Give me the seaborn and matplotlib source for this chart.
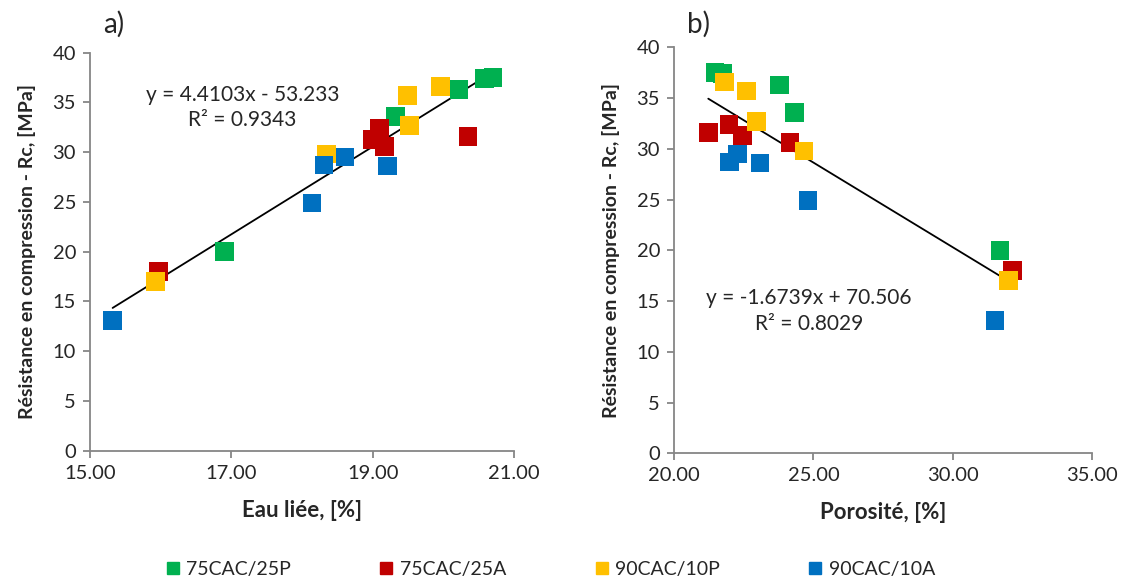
import matplotlib
matplotlib.use("Agg")
import matplotlib.pyplot as plt
import seaborn as sns
import pandas as pd

# data
groups = ["75CAC/25P", "75CAC/25A", "90CAC/10P", "90CAC/10A"]
colors = ["#00B050", "#C00000", "#FFC000", "#0070C0"]

eau_75p = [16.90, 19.32, 20.22, 20.58, 20.70]
poro_75p = [31.69, 24.32, 23.78, 21.74, 21.47]
rc_75p = [20.0, 33.6, 36.3, 37.4, 37.5]

eau_75a = [15.97, 18.99, 19.10, 19.17, 20.35]
poro_75a = [32.13, 22.45, 21.97, 24.16, 21.23]
rc_75a = [18.0, 31.3, 32.4, 30.6, 31.6]

eau_90p = [15.93, 18.35, 19.49, 19.52, 19.96]
poro_90p = [31.99, 24.66, 22.61, 22.96, 21.81]
rc_90p = [17.0, 29.8, 35.7, 32.7, 36.6]

eau_90a = [15.32, 18.14, 18.31, 18.61, 19.21]
poro_90a = [31.51, 24.81, 21.98, 22.28, 23.08]
rc_90a = [13.1, 24.9, 28.7, 29.5, 28.6]

eq_a = "y = 4.4103x - 53.233\nR² = 0.9343"
eq_b = "y = -1.6739x + 70.506\nR² = 0.8029"

df = pd.DataFrame({
    "groupe": [groups[0]] * 5 + [groups[1]] * 5 + [groups[2]] * 5 + [groups[3]] * 5,
    "eau": eau_75p + eau_75a + eau_90p + eau_90a,
    "poro": poro_75p + poro_75a + poro_90p + poro_90a,
    "rc": rc_75p + rc_75a + rc_90p + rc_90a,
})

sns.set_theme(style="white")
plt.rcParams["font.family"] = ["Lato", "DejaVu Sans"]

fig = plt.figure(figsize=(11.35, 5.79), dpi=100)
ax1 = fig.add_axes([0.0793, 0.2216, 0.3736, 0.6874])
ax2 = fig.add_axes([0.5938, 0.2170, 0.3686, 0.7012])

palette = dict(zip(groups, colors))
grey = "#868686"


def panel(ax, x, xlim, xticks, xlabel, letter, letter_y, eq, eq_xy):
    sns.regplot(x=x, y="rc", data=df, scatter=False, ci=None, ax=ax,
                line_kws={"color": "black", "lw": 1.3}, truncate=True)
    sns.scatterplot(x=x, y="rc", hue="groupe", data=df, palette=palette,
                    marker="s", s=180, linewidth=0, ax=ax, legend=False, zorder=3)
    ax.set_xlim(*xlim)
    ax.set_ylim(0, 40)
    ax.set_xticks(xticks)
    ax.set_xticklabels([f"{t:.2f}" for t in xticks])
    ax.set_yticks(range(0, 41, 5))
    ax.set_xlabel(xlabel, fontsize=16, fontweight="bold", labelpad=13)
    ax.set_ylabel("Résistance en compression - Rc, [MPa]", fontsize=14,
                  fontweight="bold", labelpad=12)
    for side in ["top", "right"]:
        ax.spines[side].set_visible(False)
    for side in ["left", "bottom"]:
        ax.spines[side].set_color(grey)
        ax.spines[side].set_linewidth(1.3)
    ax.tick_params(axis="both", direction="out", length=5, width=1.3,
                   color=grey, labelsize=14.5, pad=5, bottom=True, left=True)
    ax.text(eq_xy[0], eq_xy[1], eq, ha="center", va="center", fontsize=15,
            linespacing=1.35)
    ax.text(0.03, letter_y, letter, transform=ax.transAxes, fontsize=20)


panel(ax1, "eau", (15, 21), [15, 17, 19, 21], "Eau liée, [%]", "a)", 1.05,
      eq_a, (17.16, 34.5))
panel(ax2, "poro", (20, 35), [20, 25, 30, 35], "Porosité, [%]", "b)", 1.035,
      eq_b, (24.84, 14.0))

handles = [plt.Line2D([], [], marker="s", linestyle="", color=c, markersize=9)
           for c in colors]
fig.legend(handles, groups, loc="center", bbox_to_anchor=(0.483, 0.017),
           ncol=4, frameon=False, fontsize=14, columnspacing=4.3,
           handletextpad=0.1, handlelength=1.2)

fig.savefig("out.png", dpi=100)
